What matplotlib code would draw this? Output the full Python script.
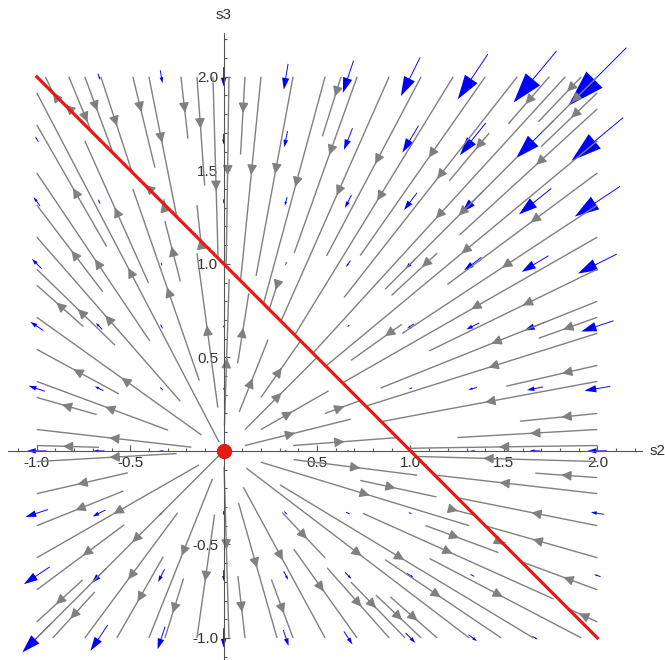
import numpy as np
import matplotlib
matplotlib.use("Agg")
import matplotlib.pyplot as plt
from matplotlib.ticker import MultipleLocator

plt.rcParams['font.family'] = ['Liberation Sans', 'DejaVu Sans']

# grid of the blue vector arrows (s2, s3)
s2_grid = [-1.0, -2/3, -1/3, 0.0, 1/3, 2/3, 1.0, 4/3, 5/3, 2.0]
s3_grid = [-1.0, -2/3, -1/3, 0.0, 1/3, 2/3, 1.0, 4/3, 5/3, 2.0]

# red line s2 + s3 = 1 and the fixed point
line_s2 = [-1.0, 2.0]
line_s3 = [2.0, -1.0]
fix_s2 = [0.0]
fix_s3 = [0.0]

x_ticks = [-1.0, -0.5, 0.5, 1.0, 1.5, 2.0]
y_ticks = [-1.0, -0.5, 0.5, 1.0, 1.5, 2.0]


def field(s2, s3):
    g = 1 - s2 - s3
    return g * s2, g * s3


fig = plt.figure(figsize=(6.65, 6.60), dpi=100)
ax = fig.add_axes([8/665, 0, 634/665, 627/660])
ax.set_xlim(-1.154, 2.239)
ax.set_ylim(-1.118, 2.234)
ax.set_aspect('auto')

# blue vectors, length proportional to magnitude
scale = 19.3
for a in s2_grid:
    for b in s3_grid:
        u, v = field(a, b)
        mag = np.hypot(u, v)
        if mag < 1e-9:
            continue
        L = mag / scale
        dx, dy = u / mag * L, v / mag * L
        ax.arrow(a - dx / 2, b - dy / 2, dx, dy, width=0.005,
                 head_width=0.28 * L, head_length=0.45 * L,
                 length_includes_head=True, color='#0000ff', lw=0, zorder=1)

# gray stream lines
xs = np.linspace(-1, 2, 121)
ys = np.linspace(-1, 2, 121)
X, Y = np.meshgrid(xs, ys)
U, V = field(X, Y)
kw = dict(color='#808080', linewidth=1.0, density=1.2, arrowsize=1.45,
          arrowstyle='-|>', zorder=2)
try:
    ax.streamplot(X, Y, U, V, num_arrows=4, **kw)
except TypeError:
    ax.streamplot(X, Y, U, V, **kw)

ax.plot(line_s2, line_s3, color='#e41a1a', lw=2.3, zorder=3)
ax.plot(fix_s2, fix_s3, 'o', color='#e41a1a', ms=10, zorder=4)

# Mathematica-style axes through the origin
for side in ['top', 'right']:
    ax.spines[side].set_visible(False)
for side in ['left', 'bottom']:
    ax.spines[side].set_position(('data', 0))
    ax.spines[side].set_color('#555555')
    ax.spines[side].set_linewidth(0.8)
ax.set_xticks(x_ticks)
ax.set_yticks(y_ticks)
ax.set_xticklabels(['%.1f' % t for t in x_ticks])
ax.set_yticklabels(['%.1f' % t for t in y_ticks])
ax.xaxis.set_minor_locator(MultipleLocator(0.1))
ax.yaxis.set_minor_locator(MultipleLocator(0.1))
ax.tick_params(which='both', direction='in', color='#555555', width=0.8,
               labelsize=11, labelcolor='#333333')
ax.tick_params(which='major', length=4.5, pad=4)
ax.tick_params(which='minor', length=2.3)

ax.text(2.324, 0, 's2', ha='center', va='center', fontsize=11,
        color='#333333', clip_on=False)
ax.text(0, 2.33, 's3', ha='center', va='center', fontsize=11,
        color='#333333', clip_on=False)

fig.savefig('out.png', dpi=100)
